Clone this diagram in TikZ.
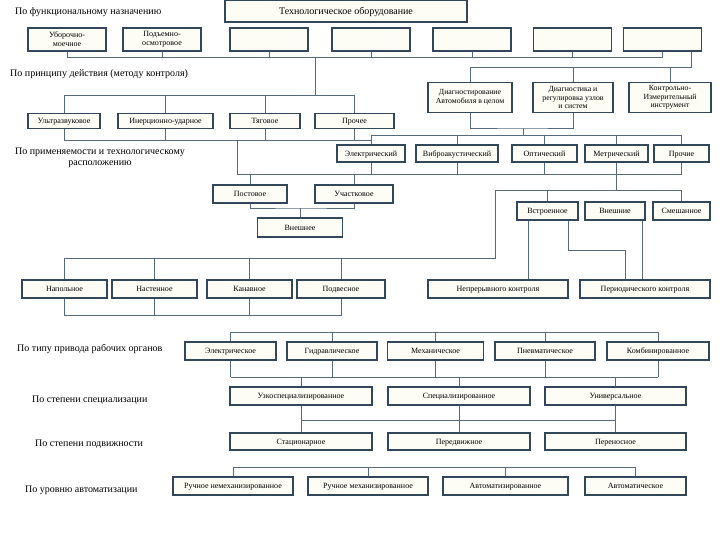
\documentclass[tikz,border=0pt]{standalone}
\usepackage{fontspec}
\setmainfont{Liberation Serif}
\definecolor{boxline}{HTML}{33475B}
\definecolor{boxfill}{HTML}{FDFDF6}
\definecolor{wireline}{HTML}{566B7E}

\begin{document}
\begin{tikzpicture}[x=1pt,y=-1pt,
		box/.style={draw=boxline, line width=1.6pt, fill=boxfill, align=center, inner sep=1pt, font=\fontsize{8}{9}\selectfont},
		one/.style={box, text height=6.4pt, text depth=1pt},
		lbl/.style={inner sep=0pt, font=\fontsize{10}{11.5}\selectfont},
		wire/.style={draw=wireline, line width=0.6pt}]
	\useasboundingbox (0,0) rectangle (720,540);

	% labels on the left
	\node[lbl, anchor=west] (t_func) at (15,12) {По функциональному назначению};
	\node[lbl, anchor=west] (t_prin) at (10,74) {По принципу действия (методу контроля)};
	\node[lbl, align=center] (t_appl) at (100,158) {По применяемости и технологическому\\расположению};
	\node[lbl, anchor=west] (t_drv) at (17,349) {По типу привода рабочих органов};
	\node[lbl, anchor=west] (t_spec) at (32,400) {По степени специализации};
	\node[lbl, anchor=west] (t_mob) at (35,444) {По степени подвижности};
	\node[lbl, anchor=west] (t_auto) at (25,490) {По уровню автоматизации};

	% root and functional row
	\node[box, text height=7.6pt, text depth=1.4pt, minimum width=242, minimum height=22, font=\fontsize{10}{11}\selectfont] (root) at (346,11) {Технологическое оборудование};
	\foreach \x/\txt [count=\i] in {67/{Уборочно-\\моечное}, 162/{Подъемно-\\осмотровое}, 269/{}, 371/{}, 472/{}, 572.5/{}, 662.5/{}} {
		\node[box, minimum width=78, minimum height=23] (f\i) at (\x,39.5) {\txt};
	}
	\coordinate (fb_w) at (67,57);
	\coordinate (fb_e) at (662.5,57);
	\coordinate (fb_j) at (315,57);
	\draw[wire] (fb_w) -- (fb_e);
	\foreach \i in {1,...,7}
		\draw[wire] (f\i.south) -- (f\i.south |- fb_w);

	% diagnostics
	\foreach \x/\w/\txt [count=\i] in {470/84/{Диагностирование\\Автомобиля в целом}, 573/80/{Диагностика и\\регулировка узлов\\и систем}, 670/82/{Контрольно-\\Измерительный\\инструмент}} {
		\node[box, minimum width=\w, minimum height=30, font=\fontsize{7.8}{8.6}\selectfont] (d\i) at (\x,97.5) {\txt};
	}
	\coordinate (db_w) at (470,67);
	\coordinate (db_e) at (691,67);
	\draw[wire] (f7.south -| db_e) -- (db_e) -- (db_w);
	\foreach \i in {1,...,3}
		\draw[wire] (d\i.north) -- (d\i.north |- db_w);

	% principle row
	\coordinate (pb_w) at (64,95);
	\coordinate (pb_e) at (354.5,95);
	\draw[wire] (fb_j) -- (fb_j |- pb_w);
	\draw[wire] (pb_w) -- (pb_e);
	\foreach \x/\w/\txt [count=\i] in {64/72/Ультразвуковое, 165.5/95/Инерционно-ударное, 265/70/Тяговое, 354.5/79/Прочее} {
		\node[one, minimum width=\w, minimum height=15] (p\i) at (\x,121) {\txt};
		\draw[wire] (p\i.north) -- (p\i.north |- pb_w);
		\draw[wire] (p\i.south) -- ++(0,11.5);
	}
	\coordinate (pl_w) at (64,140);
	\coordinate (pl_j) at (237,140);
	\coordinate (pl_e) at (371,140);

	% measurement row
	\coordinate (mb_w) at (371,135);
	\coordinate (mb_e) at (681.5,135);
	\draw[wire] (pl_w) -- (pl_e) -- (mb_w) -- (mb_e);
	\coordinate (dj) at (523,128);
	\draw[wire] (d1.south) |- (dj) -| (d2.south);
	\draw[wire] (dj) -- (dj |- mb_w);
	\foreach \x/\w/\txt [count=\i] in {371/68/Электрический, 457/82/Виброакустический, 544.5/65/Оптический, 616.5/63/Метрический, 681.5/55/Прочие} {
		\node[one, minimum width=\w, minimum height=17] (m\i) at (\x,153.5) {\txt};
		\draw[wire] (m\i.north) -- (m\i.north |- mb_w);
	}
	\coordinate (ml_w) at (237,174);
	\coordinate (ml_e) at (681.5,174);
	\draw[wire] (pl_j) -- (ml_w) -- (ml_e);
	\foreach \i in {1,2,3,5}
		\draw[wire] (m\i.south) -- (m\i.south |- ml_w);

	% post / section
	\node[one, minimum width=74, minimum height=18] (s1) at (250,194) {Постовое};
	\node[one, minimum width=78, minimum height=18] (s2) at (354,194) {Участковое};
	\node[one, minimum width=85, minimum height=19] (e0) at (300,227.5) {Внешнее};
	\foreach \i in {1,2}
		\draw[wire] (s\i.north) -- (s\i.north |- ml_w);
	\coordinate (sj) at (300,208);
	\draw[wire] (s1.south) |- (sj) -| (s2.south);
	\draw[wire] (sj) -- (e0.north);

	% embedding
	\coordinate (eb_w) at (495,190);
	\coordinate (eb_e) at (681.5,190);
	\draw[wire] (m4.south) -- (m4.south |- eb_w);
	\foreach \x/\w/\txt [count=\i] in {547.5/61/Встроенное, 615/60/Внешние, 681.5/57/Смешанное} {
		\node[one, minimum width=\w, minimum height=18] (v\i) at (\x,211) {\txt};
	}
	\draw[wire] (v1.north) -- (v1.north |- eb_w);
	\draw[wire] (v3.north) -- (v3.north |- eb_w);

	% control
	\node[one, minimum width=140, minimum height=18] (c1) at (498,289) {Непрерывного контроля};
	\node[one, minimum width=130, minimum height=18] (c2) at (645,289) {Периодического контроля};
	\draw[wire] ([xshift=-19.5pt]v1.south) -- ([xshift=-19.5pt]v1.south |- c1.north);
	\coordinate (vc) at (625,250);
	\draw[wire] ([xshift=20.5pt]v1.south) |- (vc) -- (vc |- c2.north);
	\draw[wire] ([xshift=27pt]v2.south) -- ([xshift=27pt]v2.south |- c2.north);

	% location row
	\coordinate (lb_w) at (64.5,258);
	\coordinate (lb_e) at (495,258);
	\draw[wire] (eb_e) -- (eb_w) -- (lb_e) -- (lb_w);
	\foreach \x/\w/\txt [count=\i] in {64.5/85/Напольное, 154.5/85/Настенное, 249.5/85/Канавное, 341/88/Подвесное} {
		\node[one, minimum width=\w, minimum height=18] (l\i) at (\x,289) {\txt};
		\draw[wire] (l\i.north) -- (l\i.north |- lb_w);
		\draw[wire] (l\i.south) -- ++(0,17);
	}
	\draw[wire] (l1.south |- 0,315) -- (l4.south |- 0,315);

	% drive row
	\coordinate (rt_w) at (230.5,332);
	\coordinate (rt_e) at (658,332);
	\coordinate (rb_w) at (230.5,377);
	\coordinate (rb_e) at (658,377);
	\draw[wire] (rt_w) -- (rt_e);
	\draw[wire] (rb_w) -- (rb_e);
	\foreach \x/\w/\txt [count=\i] in {230.5/91/Электрическое, 332/90/Гидравлическое, 435.5/96/Механическое, 545/100/Пневматическое, 658/102/Комбинированное} {
		\node[one, minimum width=\w, minimum height=18] (r\i) at (\x,351) {\txt};
		\draw[wire] (r\i.north) -- (r\i.north |- rt_w);
		\draw[wire] (r\i.south) -- (r\i.south |- rb_w);
	}

	% specialisation and mobility
	\coordinate (kb_w) at (301,420);
	\coordinate (kb_e) at (615.5,420);
	\draw[wire] (kb_w) -- (kb_e);
	\foreach \x/\w/\txt/\mtxt [count=\i] in {301/142/Узкоспециализированное/Стационарное, 459/142/Специализированное/Передвижное, 615.5/141/Универсальное/Переносное} {
		\node[one, minimum width=\w, minimum height=18] (g\i) at (\x,396) {\txt};
		\node[one, minimum width=\w, minimum height=17] (k\i) at (\x,441.5) {\mtxt};
		\draw[wire] (g\i.north) -- (g\i.north |- rb_w);
		\draw[wire] (g\i.south) -- (k\i.north);
	}

	% automation
	\coordinate (ab_w) at (233,467);
	\coordinate (ab_e) at (635.5,467);
	\draw[wire] (ab_w) -- (ab_e);
	\foreach \x/\w/\txt [count=\i] in {233/120/Ручное немеханизированное, 368/120/Ручное механизированное, 505.5/125/Автоматизированное, 635.5/101/Автоматическое} {
		\node[one, minimum width=\w, minimum height=18] (a\i) at (\x,486) {\txt};
		\draw[wire] (a\i.north) -- (a\i.north |- ab_w);
	}
\end{tikzpicture}
\end{document}
